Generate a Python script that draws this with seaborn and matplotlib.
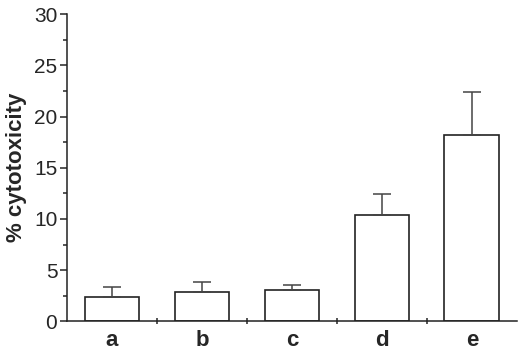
import matplotlib
matplotlib.use('Agg')
import matplotlib.pyplot as plt
import numpy as np
import pandas as pd
import seaborn as sns
from matplotlib.ticker import MultipleLocator

groups = ['a', 'b', 'c', 'd', 'e']
cytotoxicity = [2.35, 2.9, 3.05, 10.4, 18.2]
sd = [1.0, 0.95, 0.55, 2.0, 4.2]

df = pd.DataFrame({'group': groups, 'cytotoxicity': cytotoxicity, 'sd': sd})

sns.set_style('ticks')
plt.rcParams['font.family'] = ['Liberation Sans', 'DejaVu Sans']

fig = plt.figure(figsize=(5.2, 3.52), dpi=100)
ax = fig.add_axes([0.129, 0.087, 0.865, 0.873])

sns.barplot(data=df, x='group', y='cytotoxicity', ax=ax, width=0.61,
            color='white', edgecolor='#222222', linewidth=1.2, errorbar=None)

x = np.arange(len(groups))
ax.errorbar(x, df['cytotoxicity'], yerr=[np.zeros(len(sd)), df['sd']],
            fmt='none', ecolor='#444444', elinewidth=1.1, capsize=6.5,
            capthick=1.1)

ax.set_xlim(-0.5, 4.5)
ax.set_ylim(0, 30)
ax.yaxis.set_major_locator(MultipleLocator(5))
ax.yaxis.set_minor_locator(MultipleLocator(2.5))
ax.set_xticks(np.arange(0.5, 4.5, 1), minor=True)
ax.tick_params(axis='x', which='major', length=0, labelsize=16, pad=6)
ax.tick_params(axis='x', which='minor', length=5, width=1.1, direction='inout')
ax.tick_params(axis='y', which='major', length=5, width=1.1, labelsize=15, pad=2)
ax.tick_params(axis='y', which='minor', length=3, width=1.1)
for lab in ax.get_xticklabels():
    lab.set_fontweight('bold')

sns.despine(ax=ax)
for s in ['left', 'bottom']:
    ax.spines[s].set_linewidth(1.1)
    ax.spines[s].set_color('#222222')

ax.set_xlabel('')
ax.set_ylabel('% cytotoxicity', fontsize=16, fontweight='bold', labelpad=5)

fig.savefig('out.png', dpi=100)
